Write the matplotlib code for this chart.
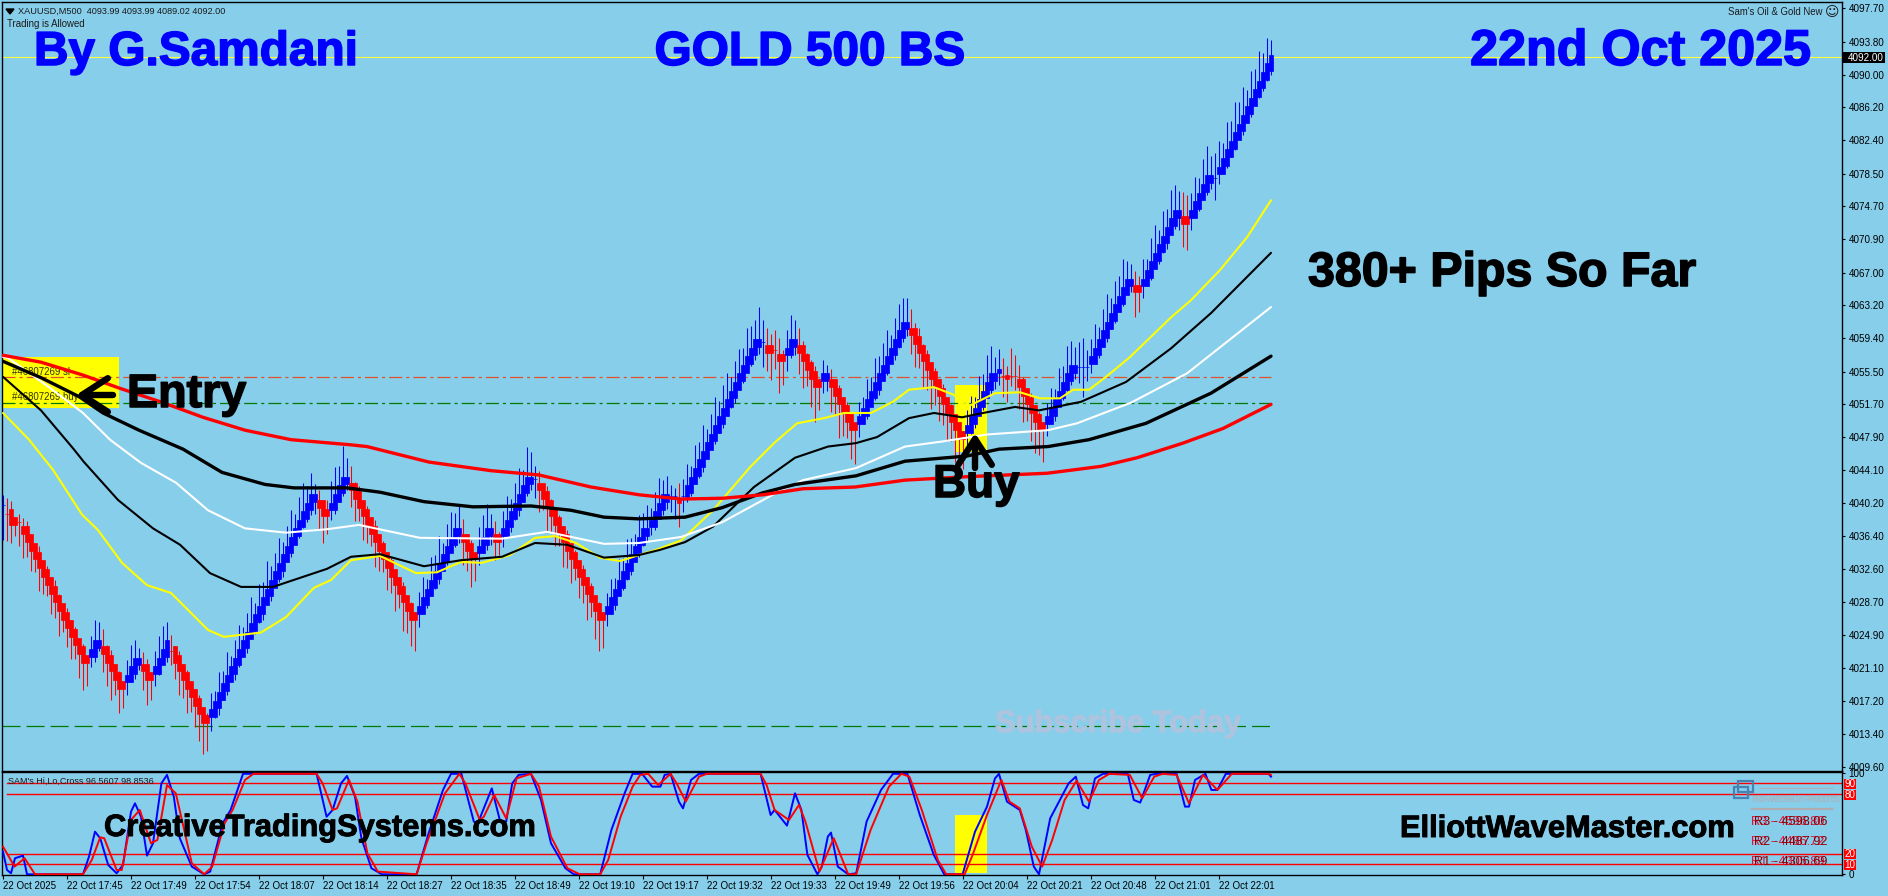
import matplotlib
matplotlib.use("Agg")
import matplotlib.pyplot as plt
from matplotlib.patches import Rectangle
import matplotlib.patheffects as pe

plt.rcParams['font.family'] = ['Liberation Sans', 'DejaVu Sans']
plt.rcParams['lines.scale_dashes'] = False

# ---------- candles ----------
closes = [
 4040,4039,4038,4038,4038,4037,4036,4035,4034,4033,4032,4031,4030,4029,4028,4027,4026,4025,4024,4023,
 4022,4022,4023,4024,4024,4023,4022,4021,4020,4019,4019,4020,4021,4022,4022,4021,4020,4020,4021,4022,
 4023,4024,4023,4022,4021,4020,4019,4018,4017,4016,4015,4015,4016,4017,4018,4019,4020,4021,4022,4023,
 4024,4025,4026,4027,4028,4029,4030,4031,4032,4033,4034,4035,4036,4037,4038,4039,4040,4041,4041,4040,
 4039,4039,4040,4041,4042,4043,4043,4042,4041,4040,4039,4038,4037,4036,4035,4034,4033,4032,4031,4030,
 4029,4028,4027,4027,4028,4029,4030,4031,4032,4033,4034,4035,4036,4037,4037,4036,4035,4034,4034,4035,
 4036,4037,4037,4036,4036,4037,4038,4039,4040,4041,4042,4043,4043,4043,4042,4041,4040,4039,4038,4037,
 4036,4035,4034,4033,4032,4031,4030,4029,4028,4027,4027,4028,4029,4030,4031,4032,4033,4034,4035,4036,
 4037,4037,4038,4039,4040,4041,4041,4041,4041,4040.5,4041,4042,4043,4044,4045,4046,4047,4048,4049,4050,
 4051,4052,4053,4054,4055,4056,4057,4058,4059,4059,4059,4058,4058,4058,4057,4057,4058,4059,4059,4058,
 4057,4056,4055,4054,4054,4055,4055,4054,4053,4052,4051,4050,4049,4049,4050,4051,4052,4053,4054,4055,
 4056,4057,4058,4059,4060,4061,4061,4060,4059,4058,4057,4056,4055,4054,4053,4052,4051,4050,4049,4048,
 4048,4049,4050,4051,4052,4053,4054,4055,4055,4055.5,4055,4055,4055,4055,4054,4053,4052,4051,4050,4049,
 4049,4050,4051,4052,4053,4054,4055,4056,4056,4056,4056,4056,4057,4058,4059,4060,4061,4062,4063,4064,
 4065,4066,4066,4065,4065,4066,4067,4068,4069,4070,4071,4072,4073,4074,4074,4073,4073,4074,4075,4076,
 4077,4078,4078,4078,4079,4080,4081,4082,4083,4084,4085,4086,4087,4088,4089,4090,4091,4092]
upper_wick = [
 1.2,0.8,1.5,0.6,1.0,0.5,1.1,0.7,0.4,1.2,0.6,0.9,0.5,1.3,0.7,0.4,1.0,0.6,0.8,0.5,
 0.9,0.4,1.8,2.6,2.4,1.6,0.8,1.2,0.5,0.7,0.4,2.0,2.7,2.3,1.4,0.9,1.1,0.4,2.1,2.8,
 3.0,2.4,0.9,0.6,1.1,0.5,0.8,0.4,0.7,1.0,0.5,0.9,2.2,1.4,2.6,1.7,2.9,1.5,2.3,3.1,
 1.8,2.5,3.3,1.6,2.8,2.1,3.5,1.9,2.4,3.2,1.7,2.6,3.4,2.0,2.9,3.6,2.2,2.7,1.5,0.8,
 0.6,1.6,2.8,3.4,2.6,3.9,2.5,1.6,0.7,1.2,0.5,0.9,0.4,1.3,0.6,0.8,0.5,1.0,0.4,0.7,
 1.1,0.5,0.8,0.6,1.9,2.6,1.4,3.0,2.2,3.4,1.6,2.8,3.2,2.1,3.0,1.4,0.7,1.0,0.6,2.4,
 2.9,3.1,2.0,1.1,0.9,2.3,3.0,1.7,2.6,3.3,2.1,3.8,3.2,1.6,1.0,0.5,1.2,0.7,0.4,0.9,
 0.6,1.1,0.4,0.8,0.5,1.0,0.6,0.9,0.4,0.7,0.5,1.8,2.4,1.5,2.7,1.9,3.1,2.2,1.6,2.8,
 2.1,3.0,1.7,2.5,3.2,1.9,2.4,1.3,1.0,1.6,2.0,2.8,1.6,3.0,2.3,3.3,1.8,2.6,3.5,2.1,
 2.9,3.4,1.9,2.7,3.1,2.2,3.6,2.8,2.5,4.0,2.5,1.6,1.9,2.3,1.4,1.0,2.3,3.1,2.5,1.6,
 1.1,0.7,0.9,1.2,0.6,1.8,1.3,0.8,0.5,0.9,0.6,1.0,0.7,0.5,2.0,1.5,2.6,1.9,3.1,2.3,
 2.8,3.3,1.8,2.7,3.4,3.0,3.0,1.8,1.2,1.6,0.7,1.0,0.5,0.9,0.6,1.1,0.4,0.8,0.5,0.7,
 0.6,2.0,2.7,1.6,3.0,2.2,3.4,3.5,2.2,2.6,1.6,1.1,3.2,2.4,1.3,0.9,0.5,1.0,0.6,0.8,
 0.7,1.9,2.6,1.5,2.9,2.2,3.5,3.1,2.4,3.0,3.4,2.0,2.3,3.0,1.7,2.8,3.5,2.0,3.0,2.6,
 3.6,2.3,2.0,1.2,1.6,2.6,1.6,3.0,3.5,2.0,3.1,2.4,3.6,3.2,2.5,2.4,3.0,2.3,3.1,2.0,
 3.2,3.7,2.6,2.9,3.3,2.1,3.5,2.6,3.8,2.8,3.6,2.2,3.4,2.7,3.7,2.5,3.2,2.0]
lower_wick = [
 4.0,3.2,2.4,1.6,2.8,3.1,2.0,2.6,1.8,3.0,2.3,1.6,2.7,2.1,3.2,1.7,2.5,2.9,1.9,3.1,
 3.5,3.0,0.8,1.2,1.0,2.4,3.0,3.6,2.1,3.1,2.6,1.0,0.6,1.2,1.1,2.5,3.2,2.6,1.0,0.7,
 0.5,1.2,1.6,2.2,3.0,2.4,3.2,2.0,2.8,3.4,3.9,3.5,1.2,0.7,1.4,0.6,1.0,0.5,1.3,0.8,
 0.6,1.2,0.5,1.0,0.7,1.4,0.6,1.1,0.5,0.9,1.3,0.6,1.0,0.5,0.8,0.7,1.0,1.2,2.0,2.8,
 3.4,2.4,0.7,1.0,0.6,0.9,1.2,2.2,2.8,1.9,3.0,2.4,1.7,3.2,2.6,1.8,2.9,2.2,3.3,2.0,
 3.6,2.8,3.4,3.9,1.1,0.6,1.0,0.5,0.8,1.2,0.7,1.0,0.5,0.9,1.4,3.0,2.6,3.5,2.8,1.0,
 0.6,1.2,1.6,2.4,1.8,0.9,0.5,1.1,0.7,1.3,0.6,0.9,1.2,2.2,2.8,1.6,3.0,2.1,2.7,1.8,
 3.2,2.3,3.0,1.7,2.8,2.4,3.3,2.0,3.6,3.9,3.6,1.0,0.6,1.2,0.5,0.9,0.7,1.1,0.6,1.0,
 0.7,1.3,0.5,0.9,0.6,1.2,1.4,1.8,2.6,3.0,1.3,0.6,1.0,0.5,0.8,1.2,0.7,0.4,0.9,0.6,
 1.0,0.5,0.7,1.1,0.6,0.8,0.4,0.9,1.1,1.5,3.0,2.4,3.5,2.2,4.0,3.0,1.4,0.9,1.6,2.8,
 3.4,2.2,3.6,4.4,3.0,1.0,1.8,3.2,2.5,4.2,3.0,2.2,3.6,4.2,1.1,0.6,1.0,0.5,0.8,1.2,
 0.6,0.9,0.5,1.1,0.7,1.0,1.4,2.4,3.0,2.1,3.4,2.6,3.8,2.4,3.2,2.7,3.6,2.5,4.0,3.0,
 3.8,1.2,0.7,1.0,0.5,0.9,0.6,1.1,1.5,1.0,2.5,3.0,1.2,1.6,2.8,3.4,2.2,3.6,4.0,3.2,
 4.0,1.0,0.6,1.2,0.5,0.8,0.7,1.0,1.3,1.8,3.4,1.6,0.7,0.4,0.9,0.6,1.0,0.5,0.8,0.6,
 0.9,0.5,1.2,3.2,2.6,1.0,0.6,0.8,0.5,1.0,0.7,1.2,0.6,0.9,2.0,3.0,3.4,1.0,0.5,0.8,
 0.6,1.0,1.3,2.6,0.7,0.4,0.9,0.6,0.8,0.5,1.0,0.6,0.9,0.5,0.7,0.9,0.8,1.0]

# ---------- moving averages (bar, price) ----------
ma_red_bars = [0,9.5,20,29,40,50,60.5,72,87,91,106.5,122,134,147,159,169.5,180,190,200,213,225.5,241,261,274.5,283.5,295,305,317]
ma_red_vals = [4057.4,4056.6,4055.1,4053.6,4051.9,4050.2,4048.7,4047.6,4047,4046.8,4045,4044,4043.5,4042.1,4041.2,4040.7,4040.8,4041.2,4041.9,4042.1,4042.9,4043.3,4043.7,4044.5,4045.5,4047.2,4048.9,4051.7]
ma_black_bars = [0,9.5,19,25,34,45,54.75,65.5,72.75,86,94.25,105.25,117.5,132,142,150.25,159,170.5,179.75,189.75,198,213.25,225.5,241,249,261.25,271.5,285.75,302,317]
ma_black_vals = [4056.7,4054.8,4052.6,4050.7,4048.7,4046.5,4043.8,4042.4,4042,4042,4041.5,4040.4,4039.8,4039.9,4039.4,4038.6,4038.4,4038.6,4039.7,4041.4,4042.4,4043.4,4045.1,4045.7,4046.5,4046.8,4047.6,4049.5,4053,4057.3]
ma_white_bars = [0,1.25,11.5,20,26.75,34.5,43.25,51.25,60.5,70.75,81,89,104.25,124.75,136,150.25,159,169.5,179.75,194,200,213.25,225.5,235,246,261.25,268.5,282,296,317]
ma_white_vals = [4057.2,4057.1,4053.7,4050.7,4047.6,4044.9,4042.6,4039.4,4037.3,4036.8,4037.2,4037.7,4036.2,4036.1,4036.9,4035.5,4035.6,4036.3,4038,4041.6,4042.9,4044.3,4046.8,4047.4,4048.2,4048.7,4049.5,4051.9,4055.3,4063]
ma_thin_bars = [0,9.5,17.5,20.25,28.75,37.5,44.25,51.75,59.5,67.5,81,87,94.25,105.25,114.5,124.75,133,141,150.25,159,164.25,170.5,177.5,187.75,198,206.25,213.25,218.5,226.5,232.75,239.75,245,253,259,269.5,280.75,292,302,317]
ma_thin_vals = [4054.9,4051,4046.6,4045,4040.6,4037.3,4035.4,4032.1,4030.5,4030.5,4032.6,4034,4034.3,4032.9,4033.6,4034,4035.6,4035.4,4033.9,4034.2,4034.8,4035.7,4037.5,4042.1,4045.5,4046.8,4047.2,4047.9,4050.1,4050.7,4050.2,4050.7,4051.4,4051,4052,4054.3,4058.2,4062.3,4069.3]
ma_yellow_bars = [0,6.5,12.5,19.75,23.75,29.75,36,42,51.25,55.25,64.5,70.75,77.75,82,87,94.25,103.25,108.5,114.5,119.75,126.75,133,138,143.25,149.25,154.25,159,163.25,169.5,177.5,186.75,193,198.5,205.25,210.25,217,222.5,226.5,232.75,237.75,241,248,254.25,259.25,264.25,267.5,271.5,275.5,281.75,292,297,304.25,311,317]
ma_yellow_vals = [4050.7,4047.6,4044.1,4038.9,4037.1,4033.3,4030.7,4029.8,4025.5,4024.7,4025.2,4027,4030.4,4031.3,4033.6,4034.1,4032.1,4032.2,4033.4,4033.3,4034.2,4036.2,4036.4,4035.6,4033.9,4033.5,4034.2,4034.8,4035.9,4039.4,4044.4,4047.3,4049.5,4050.1,4050.7,4050.7,4052,4053.4,4053.7,4052.8,4051.4,4053,4053.1,4052.4,4052.4,4053.4,4053.4,4054.8,4057.2,4061.8,4063.8,4067.3,4071.1,4075.4]

# ---------- oscillator (bar, value) ----------
osc_blue_bars = [0,1,2,3,5,6,20,21.5,23,24.3,26.3,28.4,30,32,33,34.5,36,37.5,39.6,41,42.7,44.2,47.2,50.3,51.8,54.9,56.9,60,78.4,80.9,82.4,84.5,86,88,89.6,92.1,94.7,103.4,106.4,110,112,114.6,117.7,118.7,122.2,124.3,125.8,127.3,128.9,132,134.5,137,140.6,142.7,149.3,152.1,155.4,157.4,
 159.75,162.3,164.35,165.4,166.9,169,170,172,174,189.4,191.9,192.9,196,198,199.6,201.1,203.6,204.7,206.2,207,208.7,211.3,213.3,215.9,219.5,222.5,226.1,229.2,232.7,235.3,239.9,243,246,248,249,251,254.2,255.7,257.7,259,261.8,266.4,268.2,270,271.3,273,275,281.2,282.7,284.3,286.8,288.3,293.4,295.5,296.5,298,300.6,302.1,303.6,305.7,316.4,317]
osc_blue_vals = [22.5,4.3,1,15.9,18.5,0,0,17.5,42.2,35.7,9.2,1,9.2,62,70.3,57,18.5,30.7,90,98.4,76.9,35.7,7.6,0,2.7,50.5,63.7,99.5,99.5,57,63.7,90,97.4,76.9,35.7,6,0,0,40.6,83.5,99.5,99.5,52.2,50.5,85.1,52.2,52.2,90,98.4,99.5,73.6,30.7,6,0,0,43.9,80.2,99.5,
 99.5,86.8,86.8,98.4,99.5,71.9,65.3,93.4,99.5,99.5,58.7,63.7,48.2,80.2,63.7,19.2,0,7.6,37.3,41.3,7.6,0,1,52.2,83.5,99.5,99.5,58.7,19.2,0,0,42.2,67,95,99.5,71.9,63.7,43.9,7.6,0,55.4,90,96.7,68.6,65.3,95,99.5,99.5,73.6,71,98.4,99.5,99.5,67,67,93.4,99.5,83.5,83.5,99.5,99.5,96.7]
osc_red_bars = [0,2.9,5.4,8,20,22.2,24.3,25.3,28.4,29.7,32,34.2,37,38.6,41,43.2,47.2,50.3,52.3,55.4,57.4,60.5,62.6,78.4,79.9,82.4,83.5,86.5,88.6,91.1,93.7,103.4,105.9,110.5,114.1,115.6,119.2,120.2,122.8,125.8,128.4,132,134,137,141.1,144.2,149.3,151.3,154.4,157.4,159.3,
 161.3,163.8,166.9,168.4,170.7,174,176,189.4,190.9,192.9,196.5,199,200.6,204.1,207.7,211.3,213.3,216.9,221.5,224.6,226.6,229.7,233.7,235.8,240.4,242.4,246,249.6,251.6,254.2,257.2,259.8,262.3,265.4,268.4,271.5,274,276.6,281.7,284.8,287.8,289.9,293.4,296.5,300,303.6,307.2,316.4,317]
osc_red_vals = [27.4,7.6,15.9,0,0,14.2,36.6,35.7,4.3,4.3,53.8,63.7,30.7,34,88.4,80.2,10.9,0,7.6,50.5,63.7,93.4,99.5,99.5,90,63.7,65.3,93.4,72,20.8,2.7,0,30.7,80.2,99.5,90,53.8,57,78.5,55.4,95,99.5,86.8,37.3,6,0,0,14.2,57,86.8,98.4,
 99.5,88.4,99.5,90,72,96.7,99.5,99.5,88.4,63.7,53.8,68.7,52.2,2.7,35.7,0,0,43.9,86.8,99.5,96.7,63.7,14.2,0,0,19.2,58.7,93.4,72,65.3,27.4,7.6,34,73.6,92.7,72,93.4,99.5,98.4,75.2,96.7,99.5,98.4,70.3,98.4,83.5,99.5,99.5,98.4]
osc_levels = [90, 80, 20, 10]

# ---------- axis labels ----------
price_ticks = ['4097.70','4093.80','4090.00','4086.20','4082.40','4078.50','4074.70','4070.90','4067.00','4063.20','4059.40','4055.50',
               '4051.70','4047.90','4044.10','4040.20','4036.40','4032.60','4028.70','4024.90','4021.10','4017.20','4013.40','4009.60']
time_labels = ['22 Oct 2025','22 Oct 17:45','22 Oct 17:49','22 Oct 17:54','22 Oct 18:07','22 Oct 18:14','22 Oct 18:27','22 Oct 18:35',
               '22 Oct 18:49','22 Oct 19:10','22 Oct 19:17','22 Oct 19:32','22 Oct 19:33','22 Oct 19:49','22 Oct 19:56','22 Oct 20:04',
               '22 Oct 20:21','22 Oct 20:48','22 Oct 21:01','22 Oct 22:01']
time_bars = [0,16,32,48,64,80,96,112,128,144,160,176,192,208,224,240,256,272,288,304]
last_price = 4092.00
stop_level = 4054.9
entry_level = 4051.9
low_level = 4014.3

W, H = 1888, 896
BG = '#87CEEB'
fig = plt.figure(figsize=(W/100, H/100), dpi=100, facecolor=BG)
ax = fig.add_axes([2/W, 1-771/H, 1840/W, 769/H], facecolor=BG)
sub = fig.add_axes([2/W, 1-875/H, 1840/W, 103/H], facecolor=BG)
ov = fig.add_axes([0, 0, 1, 1], facecolor='none')
ov.set_xlim(0, W); ov.set_ylim(H, 0); ov.axis('off')

XL = (-0.25, 459.75)
for a in (ax, sub):
    a.set_xlim(*XL)
    for s in a.spines.values():
        s.set_linewidth(1.0); s.set_color('black')
ax.set_ylim(4009.12, 4098.43)
sub.set_ylim(-0.7, 101.3)

# yellow boxes
ax.add_patch(Rectangle((-0.25, 4051.3), 29.25, 5.9, fc='yellow', ec='none', zorder=1))
ax.add_patch(Rectangle((238, 4046.2), 8, 7.75, fc='yellow', ec='none', zorder=1))
sub.add_patch(Rectangle((238, 1.3), 8, 57.4, fc='yellow', ec='none', zorder=1))

# level lines
ax.plot(XL, [last_price]*2, color='#FFFF40', lw=0.8, zorder=2)
ax.plot([-0.25, 317], [stop_level]*2, color='#E0502A', lw=0.9, ls=(0, (9.4, 2.9, 2.2, 2.9)), zorder=2)
ax.plot([-0.25, 317], [entry_level]*2, color='#007A00', lw=0.9, ls=(0, (9.4, 2.9, 2.2, 2.9)), zorder=2)
ax.plot([-0.25, 317], [low_level]*2, color='#007A00', lw=0.9, ls=(0, (13, 4.3)), zorder=2)

# candles: body spans roughly two steps of the staircase
bars = list(range(len(closes)))
prev1 = [closes[0]] + closes[:-1]
prev2 = closes[:2] + closes[:-2]
up = True
colors, body_lo, body_hi = [], [], []
for p1, p2, c in zip(prev1, prev2, closes):
    if c > p1: up = True
    elif c < p1: up = False
    colors.append('#0000FF' if up else '#FF0000')
    if c > p2:
        body_lo.append(p2 + 0.4); body_hi.append(c + 0.3)
    elif c < p2:
        body_lo.append(c - 0.3); body_hi.append(p2 - 0.4)
    else:
        body_lo.append(c); body_hi.append(c)
tops = [max(o, c) + u for o, c, u in zip(prev1, closes, upper_wick)]
bots = [min(o, c) - l for o, c, l in zip(prev1, closes, lower_wick)]
ax.vlines(bars, bots, tops, colors=colors, lw=0.75, zorder=3)
ax.bar(bars, [h - l for h, l in zip(body_hi, body_lo)], bottom=body_lo,
       width=0.8, color=colors, edgecolor=colors, linewidth=0.5, zorder=3.1)

# moving averages
ma_style = dict(zorder=4, solid_capstyle='round', solid_joinstyle='round')
ax.plot(ma_yellow_bars, ma_yellow_vals, color='#FFFF00', lw=1.5, **ma_style)
ax.plot(ma_thin_bars, ma_thin_vals, color='black', lw=1.5, **ma_style)
ax.plot(ma_white_bars, ma_white_vals, color='white', lw=1.5, **ma_style)
ax.plot(ma_black_bars, ma_black_vals, color='black', lw=2.4, **ma_style)
ax.plot(ma_red_bars, ma_red_vals, color='#FF0000', lw=2.4, **ma_style)

# oscillator
for lv in osc_levels:
    sub.plot([1, XL[1]], [lv, lv], color='#FF0000', lw=1.0, zorder=2)
sub.plot(osc_blue_bars, osc_blue_vals, color='#0000FF', lw=1.4, zorder=3)
sub.plot(osc_red_bars, osc_red_vals, color='#FF0000', lw=1.4, zorder=4)

# axes ticks
SMALL = 7.1
prices = [float(p) for p in price_ticks]
ax.yaxis.tick_right()
ax.set_yticks(prices)
ax.set_yticklabels(price_ticks, fontsize=SMALL)
ax.tick_params(axis='y', length=2.2, width=0.8, pad=2.5, colors='black')
ax.set_xticks([])

sub.yaxis.tick_right()
sub.set_yticks([100, 0])
sub.set_yticklabels(['100', '0'], fontsize=SMALL)
sub.tick_params(axis='y', length=2.2, width=0.8, pad=2.5)
sub.set_xticks(time_bars)
sub.set_xticklabels(time_labels, fontsize=7.0, ha='left')
sub.tick_params(axis='x', length=3, width=0.8, pad=1.5)

# red level tags
tag_y = {90: 784, 80: 795, 20: 854, 10: 865}
for lv in osc_levels:
    ov.add_patch(Rectangle((1844, tag_y[lv]-5.2), 12, 10.4, fc='#FF0000', ec='none', zorder=5))
    ov.text(1850, tag_y[lv], str(lv), color='white', fontsize=SMALL, ha='center', va='center', zorder=6)

# current price tag
ov.add_patch(Rectangle((1843, 52), 42, 11, fc='black', ec='none', zorder=5))
ov.text(1848, 57.6, '%.2f' % last_price, color='white', fontsize=SMALL, ha='left', va='center', zorder=6)

# headings (baseline in pixels), slightly thickened like the heavy original lettering
def heading(x, y, txt, color, size, ha='left', stroke=1.1):
    t = ov.text(x, y, txt, color=color, fontsize=size, ha=ha, va='baseline', fontweight='bold',
                family='Liberation Sans', zorder=7)
    t.set_path_effects([pe.withStroke(linewidth=stroke, foreground=color)])
    return t

heading(34, 65, 'By G.Samdani', '#0000FF', 34.4)
heading(810, 65, 'GOLD 500 BS', '#0000FF', 34.4, ha='center')
heading(1811, 65, '22nd Oct 2025', '#0000FF', 36.2, ha='right')
heading(1308, 286, '380+ Pips So Far', 'black', 34.8)
heading(127, 407, 'Entry', 'black', 33.6)
heading(933, 497, 'Buy', 'black', 33)
heading(104, 836, 'CreativeTradingSystems.com', 'black', 22.2, stroke=0.7)
heading(1400, 837, 'ElliottWaveMaster.com', 'black', 22.2, stroke=0.7)
heading(995, 732, 'Subscribe Today', '#AEC4DE', 22.2, stroke=0.7)

# arrows
arrow = dict(arrowstyle='->,head_length=0.85,head_width=0.55', color='black', lw=4.6, shrinkA=0, shrinkB=0)
ov.annotate('', xy=(76, 395), xytext=(113, 395), arrowprops=dict(arrow, mutation_scale=22), zorder=7)
ov.annotate('', xy=(975, 433), xytext=(975, 468), arrowprops=dict(arrow, mutation_scale=22), zorder=7)

# small labels
small = dict(va='center', zorder=7)
ov.text(18, 11, 'XAUUSD,M500  4093.99 4093.99 4089.02 4092.00', color='#1A1A1A', ha='left', fontsize=6.6, **small)
ov.text(7, 24, 'Trading is Allowed', color='#1A1A1A', ha='left', fontsize=6.9, **small)
ov.text(1823, 12, "Sam's Oil & Gold New", color='#1A1A1A', ha='right', fontsize=6.9, **small)
ov.text(1825, 12, '\u263A', color='#1A1A1A', ha='left', fontsize=10, va='center', family='DejaVu Sans', zorder=7)
ov.text(8, 781, "SAM's Hi,Lo,Cross 96.5607 98.8536", color='#1A1A1A', ha='left', fontsize=6.5, **small)
ax.text(12, 372, '#46807269 sl', color='#333310', ha='left', va='center', fontsize=6.9, transform=ov.transData, zorder=2.5)
ax.text(12, 397, '#46807269 buy', color='#333310', ha='left', va='center', fontsize=6.9, transform=ov.transData, zorder=2.5)
ov.fill([6, 14, 10], [9, 9, 14], color='black', zorder=7)

# pivots panel (overlapping labels)
ov.add_patch(Rectangle((1738, 781), 15, 11, fc='none', ec='#4682B4', lw=1.6, zorder=6))
ov.add_patch(Rectangle((1734, 787), 14, 11, fc='none', ec='#4682B4', lw=1.6, zorder=6))
ov.plot([1760, 1832], [788, 788], color='#A9B4BE', lw=0.9, zorder=5)
ov.plot([1752, 1832], [809, 809], color='#B0ABAE', lw=1.6, zorder=5)
ov.text(1752, 799, 'R4-WEEKLY PIVOTS', color='#A9B4BE', fontsize=6.4, ha='left', va='center', zorder=6)
ov.text(1755, 799, 'R3-WEEKLY PIVOTS', color='#A9B4BE', fontsize=6.4, ha='left', va='center', zorder=6)
pivot_rows = [(822, 'R3 - 4596.80', 'R3 - 4598.06'), (842, 'R2 - 4486.72', 'R2 - 4487.92'), (862, 'R1 - 4305.89', 'R1 - 4306.69')]
for yy, t1, t2 in pivot_rows:
    ov.text(1751, yy, t1, color='#DC143C', fontsize=9.2, ha='left', va='center', zorder=6)
    ov.text(1754, yy, t2, color='#8B0000', fontsize=9.2, ha='left', va='center', zorder=6)

fig.savefig('out.png', dpi=100, facecolor=BG)
